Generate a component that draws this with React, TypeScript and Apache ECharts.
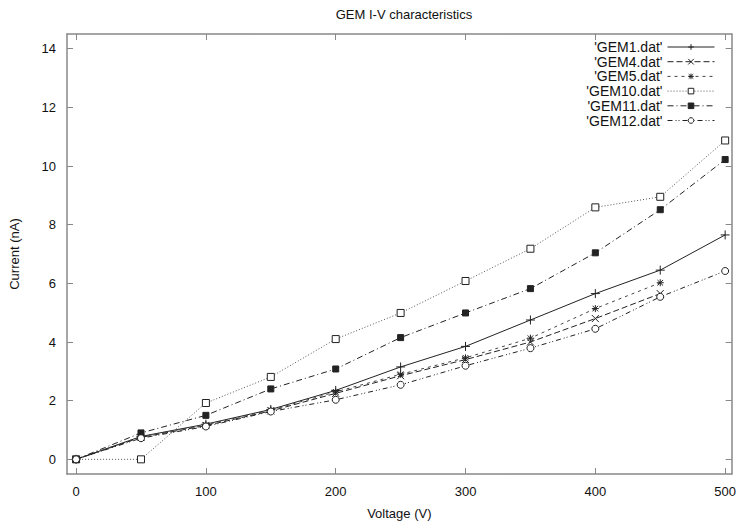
import React, { useEffect, useRef } from "react";
import * as echarts from "echarts";

const voltages = [0, 50, 100, 150, 200, 250, 300, 350, 400, 450, 500];
const seriesNames = ["'GEM1.dat'", "'GEM4.dat'", "'GEM5.dat'", "'GEM10.dat'", "'GEM11.dat'", "'GEM12.dat'"];
const gem1 = [0, 0.78, 1.2, 1.7, 2.35, 3.15, 3.85, 4.75, 5.65, 6.45, 7.65];
const gem4 = [0, 0.75, 1.15, 1.65, 2.25, 2.85, 3.4, 4.0, 4.8, 5.65];
const gem5 = [0, 0.77, 1.18, 1.68, 2.3, 2.9, 3.46, 4.13, 5.14, 6.02];
const gem10 = [0, 0, 1.92, 2.81, 4.1, 4.99, 6.08, 7.18, 8.59, 8.95, 10.87];
const gem11 = [0, 0.9, 1.5, 2.4, 3.08, 4.15, 4.99, 5.82, 7.04, 8.51, 10.22];
const gem12 = [0, 0.72, 1.12, 1.63, 2.03, 2.54, 3.19, 3.79, 4.45, 5.54, 6.42];
const xTicks = [0, 100, 200, 300, 400, 500];
const yTicks = [0, 2, 4, 6, 8, 10, 12, 14];

const FONT = "Liberation Sans";
const INK = "#222";
const FRAME = "#888";

export default function App() {
  const ref = useRef<HTMLDivElement>(null);
  useEffect(() => {
    const chart = echarts.init(ref.current!, null, { renderer: "svg" });
    const allData = [gem1, gem4, gem5, gem10, gem11, gem12];
    const symbols = [
      "path://M0,5L10,5M5,0L5,10",
      "path://M0,0L10,10M0,10L10,0",
      "path://M0,5L10,5M5,0L5,10M1,1L9,9M1,9L9,1",
      "path://M0,0L10,0L10,10L0,10Z",
      "rect",
      "circle",
    ];
    const sizes = [9, 7, 7, 7, 6, 7];
    const fills = [INK, INK, INK, "#fff", INK, "#fff"];
    const dashes: any[] = ["solid", [6, 3], [3, 4], [1, 2], [6, 3, 1, 3], [5, 3, 1, 2, 1, 3]];
    const lineColors = [INK, INK, "#444", "#555", INK, INK];
    const series = allData.map((d, i) => ({
      name: seriesNames[i],
      type: "line",
      data: d.map((v, j) => [voltages[j], v]),
      symbol: symbols[i],
      symbolSize: sizes[i],
      showSymbol: true,
      lineStyle: { color: lineColors[i], width: 1, type: dashes[i] },
      itemStyle: {
        color: fills[i],
        borderColor: INK,
        borderWidth: 1,
      },
      emphasis: { disabled: true },
      z: 2 + i,
    }));
    const legendTop0 = 40;
    const legends = seriesNames.map((n, i) => ({
      data: [n],
      orient: "vertical",
      right: 24,
      top: legendTop0 + i * 14.7,
      align: "right",
      itemWidth: 47,
      itemHeight: 7,
      padding: 0,
      selectedMode: false,
      lineStyle: { width: 1 },
      itemStyle: { borderWidth: 1 },
      textStyle: { fontFamily: FONT, fontSize: 14, color: "#111" },
    }));
    const axisLineStyle = { lineStyle: { color: FRAME, width: 1.5 } };
    chart.setOption({
      animation: false,
      title: {
        text: "GEM I-V characteristics",
        left: 399,
        textAlign: "center",
        top: 3,
        textStyle: { fontFamily: FONT, fontSize: 13, fontWeight: "normal", color: "#111" },
      },
      grid: { left: 67, right: 7, top: 34, bottom: 50 },
      legend: legends,
      xAxis: [
        {
          type: "value",
          min: -7,
          max: 505,
          name: "Voltage (V)",
          nameLocation: "middle",
          nameGap: 33,
          nameTextStyle: { fontFamily: FONT, fontSize: 13, color: "#111" },
          axisLine: { onZero: false, ...axisLineStyle },
          axisTick: { inside: true, length: 6, customValues: xTicks, lineStyle: { color: FRAME } },
          axisLabel: { customValues: xTicks, fontFamily: FONT, fontSize: 13, color: "#111", margin: 11 },
          splitLine: { show: false },
        },
        {
          type: "value",
          position: "top",
          min: -7,
          max: 505,
          axisLine: { onZero: false, ...axisLineStyle },
          axisTick: { inside: true, length: 6, customValues: xTicks, lineStyle: { color: FRAME } },
          axisLabel: { show: false },
          splitLine: { show: false },
        },
      ],
      yAxis: [
        {
          type: "value",
          min: -0.5,
          max: 14.5,
          name: "Current (nA)",
          nameLocation: "middle",
          nameGap: 46,
          nameTextStyle: { fontFamily: FONT, fontSize: 13, color: "#111" },
          axisLine: { show: true, onZero: false, ...axisLineStyle },
          axisTick: { show: true, inside: true, length: 6, customValues: yTicks, lineStyle: { color: FRAME } },
          axisLabel: { customValues: yTicks, fontFamily: FONT, fontSize: 13, color: "#111", margin: 11 },
          splitLine: { show: false },
        },
        {
          type: "value",
          position: "right",
          min: -0.5,
          max: 14.5,
          axisLine: { show: true, onZero: false, ...axisLineStyle },
          axisTick: { show: true, inside: true, length: 6, customValues: yTicks, lineStyle: { color: FRAME } },
          axisLabel: { show: false },
          splitLine: { show: false },
        },
      ],
      series,
    });
    return () => chart.dispose();
  }, []);
  return (
    <div
      ref={ref}
      style={{ position: "absolute", left: 0, top: 0, width: 739, height: 525, background: "#fff" }}
    />
  );
}
